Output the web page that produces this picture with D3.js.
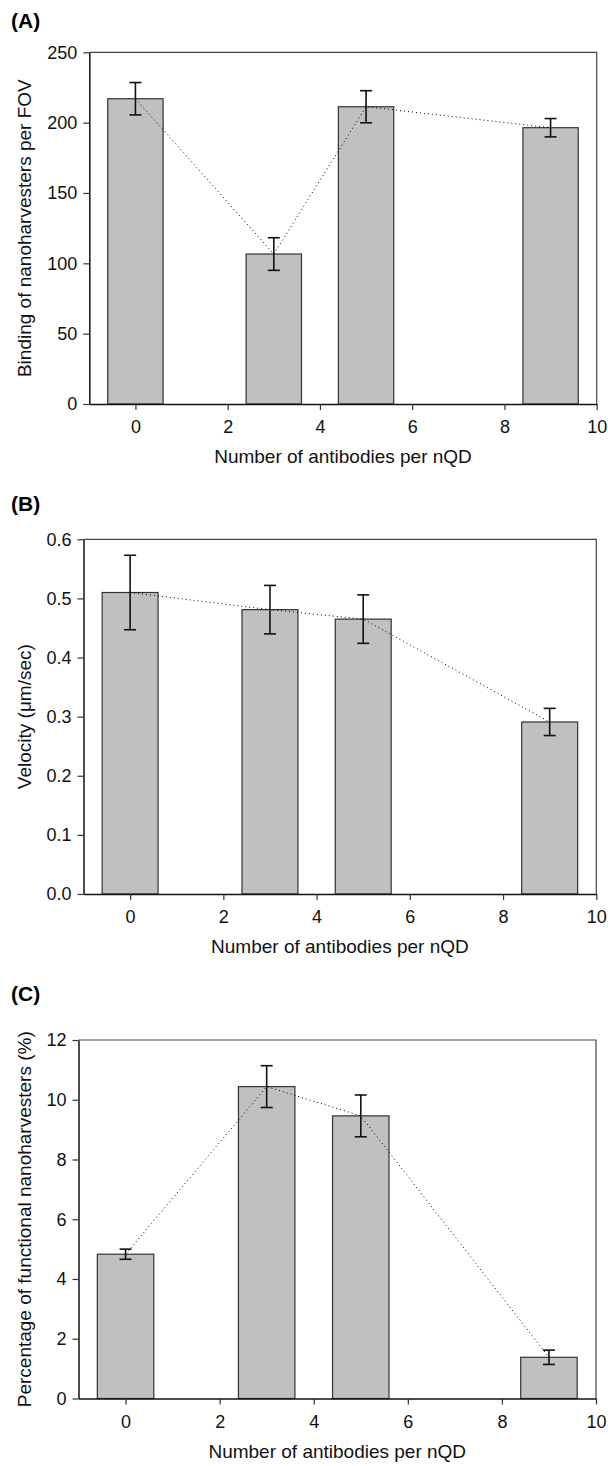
<!DOCTYPE html>
<html>
<head>
<meta charset="utf-8">
<script src="https://cdn.jsdelivr.net/npm/d3@7"></script>
<style>
  body { margin: 0; background: #fff; }
  svg { display: block; font-family: "Liberation Sans", Arial, sans-serif; }
</style>
</head>
<body>
<script>
// x positions (antibodies per nQD)
var antibodies = [0, 3, 5, 9];
var xTicks = [0, 2, 4, 6, 8, 10];

// (A) binding per FOV
var bindingMean = [217, 106.6, 211.3, 196.4];
var bindingErr = [11.5, 11.6, 11.4, 6.5];
var bindingTicks = [0, 50, 100, 150, 200, 250];

// (B) velocity
var velocityMean = [0.51, 0.481, 0.465, 0.291];
var velocityErr = [0.063, 0.041, 0.041, 0.023];
var velocityTicks = [0, 0.1, 0.2, 0.3, 0.4, 0.5, 0.6];

// (C) percentage functional
var functionalMean = [4.83, 10.44, 9.46, 1.38];
var functionalErr = [0.17, 0.7, 0.7, 0.24];
var functionalTicks = [0, 2, 4, 6, 8, 10, 12];

var width = 608, height = 1466;
var barW = 1.2; // bar width in x units

var svg = d3.select("body").append("svg").attr("width", width).attr("height", height);

// one panel per chart
function drawPanel(p) {
    var x = d3.scaleLinear().domain([-1, 10]).range([p.left, p.right]);
    var y = d3.scaleLinear().domain([0, p.yMax]).range([p.bottom, p.top]);
    var g = svg.append("g");

    // panel letter
    g.append("text").attr("x", 11).attr("y", p.labelY)
        .attr("font-size", 21).attr("font-weight", "bold").text(p.label);

    // frame top + right
    g.append("path")
        .attr("d", "M" + p.left + "," + p.top + "H" + p.right + "V" + p.bottom)
        .attr("fill", "none").attr("stroke", "#444").attr("stroke-width", 1.2);

    // bars
    g.selectAll("rect.bar").data(antibodies).enter().append("rect")
        .attr("x", d => x(d - barW / 2))
        .attr("width", d => x(d + barW / 2) - x(d - barW / 2))
        .attr("y", (d, i) => y(p.mean[i]))
        .attr("height", (d, i) => y(0) - y(p.mean[i]))
        .attr("fill", "#c0c0c0").attr("stroke", "#333").attr("stroke-width", 1.2);

    // dotted connecting line
    var line = d3.line().x(d => x(d[0])).y(d => y(d[1]));
    g.append("path")
        .datum(antibodies.map((d, i) => [d, p.mean[i]]))
        .attr("d", line).attr("fill", "none")
        .attr("stroke", "#000").attr("stroke-width", 1).attr("stroke-dasharray", "1,3");

    // error bars
    var eb = g.selectAll("g.err").data(antibodies).enter().append("g")
        .attr("stroke", "#111").attr("stroke-width", 1.6);
    eb.append("line")
        .attr("x1", d => x(d)).attr("x2", d => x(d))
        .attr("y1", (d, i) => y(p.mean[i] + p.err[i]))
        .attr("y2", (d, i) => y(p.mean[i] - p.err[i]));
    eb.append("line")
        .attr("x1", d => x(d) - 6).attr("x2", d => x(d) + 6)
        .attr("y1", (d, i) => y(p.mean[i] + p.err[i]))
        .attr("y2", (d, i) => y(p.mean[i] + p.err[i]));
    eb.append("line")
        .attr("x1", d => x(d) - 6).attr("x2", d => x(d) + 6)
        .attr("y1", (d, i) => y(p.mean[i] - p.err[i]))
        .attr("y2", (d, i) => y(p.mean[i] - p.err[i]));

    // axes
    var xa = g.append("g").attr("transform", "translate(0," + p.bottom + ")")
        .call(d3.axisBottom(x).tickValues(xTicks).tickSize(6).tickSizeOuter(0));
    xa.selectAll("text").attr("font-size", 18).attr("fill", "#111")
        .attr("dy", null).attr("y", 29);
    var ya = g.append("g").attr("transform", "translate(" + p.left + ",0)")
        .call(d3.axisLeft(y).tickValues(p.ticks).tickFormat(p.fmt).tickSize(6).tickPadding(6).tickSizeOuter(0));
    ya.selectAll("text").attr("font-size", 18).attr("fill", "#111");
    [xa, ya].forEach(a => {
        a.select(".domain").attr("stroke", "#111").attr("stroke-width", 1.5);
        a.selectAll(".tick line").attr("stroke", "#333").attr("stroke-width", 1.2);
    });

    // titles
    g.append("text").attr("x", (p.left + p.right) / 2).attr("y", p.bottom + 59)
        .attr("text-anchor", "middle").attr("font-size", 19).attr("fill", "#111")
        .text("Number of antibodies per nQD");
    g.append("text")
        .attr("transform", "translate(31," + (p.top + p.bottom) / 2 + ") rotate(-90)")
        .attr("text-anchor", "middle").attr("font-size", 19).attr("fill", "#111")
        .text(p.yTitle);
}

drawPanel({label: "(A)", labelY: 28, left: 89.3, right: 596.7, top: 52.3, bottom: 404,
    yMax: 250, ticks: bindingTicks, fmt: d3.format("d"),
    mean: bindingMean, err: bindingErr, yTitle: "Binding of nanoharvesters per FOV"});

drawPanel({label: "(B)", labelY: 511, left: 83.5, right: 596.3, top: 539.3, bottom: 894,
    yMax: 0.6, ticks: velocityTicks, fmt: d3.format(".1f"),
    mean: velocityMean, err: velocityErr, yTitle: "Velocity (\u03bcm/sec)"});

drawPanel({label: "(C)", labelY: 1001, left: 78.5, right: 596, top: 1040, bottom: 1398.5,
    yMax: 12, ticks: functionalTicks, fmt: d3.format("d"),
    mean: functionalMean, err: functionalErr, yTitle: "Percentage of functional nanoharvesters (%)"});
</script>
</body>
</html>
